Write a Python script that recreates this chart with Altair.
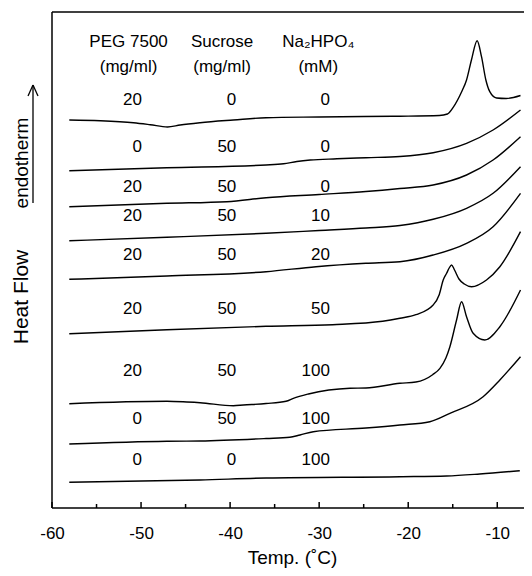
import altair as alt
import pandas as pd

FONT = "Liberation Sans"

# ---- DSC traces (temperature in degC, heat flow in arbitrary stacked units) ----
T1 = [-58.06, -54.58, -50.85, -48.97, -47.03, -45.61, -43.37, -39.63, -35.96, -30.0, -25.0, -20.9, -16.5, -15.6, -14.95, -14.0, -13.45, -12.9, -12.26, -11.77, -11.28, -10.84, -10.08, -9.0, -7.39]
H1 = [388.0, 387.3, 385.3, 383.3, 381.0, 383.0, 385.3, 388.0, 390.3, 391.0, 391.5, 391.8, 392.5, 394.0, 400.7, 416.3, 428.0, 448.0, 467.3, 451.3, 428.0, 416.3, 410.0, 409.5, 412.5]

T2 = [-58.06, -47.1, -35.96, -34.0, -32.5, -31.0, -28.0, -24.75, -20.93, -17.2, -13.45, -10.47, -7.39]
H2 = [337.3, 340.3, 343.0, 344.2, 346.5, 348.0, 349.2, 350.3, 351.5, 355.3, 364.7, 378.0, 398.0]

T3 = [-58.06, -47.1, -40.37, -35.96, -30.0, -24.75, -20.93, -17.2, -13.45, -10.47, -7.39]
H3 = [301.3, 304.7, 306.3, 310.2, 313.5, 316.5, 319.5, 323.0, 333.0, 348.0, 371.3]

T4 = [-58.06, -47.1, -35.96, -30.0, -24.75, -20.93, -17.2, -13.45, -10.47, -7.39]
H4 = [267.3, 270.7, 274.7, 277.5, 280.0, 282.5, 288.7, 299.7, 314.7, 341.3]

T5 = [-58.06, -47.1, -35.96, -30.35, -24.75, -20.93, -17.2, -13.45, -10.47, -7.39]
H5 = [228.7, 232.0, 236.3, 241.3, 244.7, 246.3, 253.0, 264.7, 281.3, 314.7]

T6 = [-58.06, -47.1, -35.96, -28.48, -22.87, -20.93, -19.14, -17.2, -16.52, -16.07, -15.69, -15.4, -15.13, -14.8, -14.3, -13.7, -12.89, -11.21, -9.71, -7.39]
H6 = [174.3, 178.3, 181.7, 183.3, 186.7, 189.7, 193.3, 203.0, 213.3, 228.0, 234.7, 240.0, 243.0, 238.0, 229.0, 224.0, 221.3, 228.0, 241.3, 276.3]

T7 = [-58.06, -47.1, -44.86, -43.37, -39.63, -38.51, -35.96, -33.72, -32.9, -31.2, -26.54, -24.75, -20.93, -19.14, -17.26, -16.44, -15.77, -15.32, -14.57, -14.01, -13.45, -12.71, -11.4, -9.71, -7.39]
H7 = [104.3, 106.7, 106.0, 105.3, 102.3, 103.0, 104.5, 106.7, 109.7, 114.0, 119.7, 120.0, 124.7, 126.0, 133.3, 139.7, 150.0, 161.3, 188.0, 206.3, 191.3, 174.7, 168.0, 181.3, 218.0]

T8 = [-58.06, -47.1, -43.37, -35.96, -33.3, -32.15, -30.66, -24.75, -20.93, -17.57, -15.32, -11.59, -9.71, -7.39]
H8 = [64.0, 66.7, 67.0, 69.5, 70.7, 73.0, 76.3, 80.0, 83.0, 86.3, 94.7, 111.3, 128.0, 151.3]

T9 = [-58.06, -43.37, -35.96, -20.93, -15.69, -11.96, -7.47]
H9 = [25.7, 28.0, 30.0, 31.3, 32.0, 34.0, 37.3]

traces = [(T1, H1), (T2, H2), (T3, H3), (T4, H4), (T5, H5), (T6, H6), (T7, H7), (T8, H8), (T9, H9)]

# ---- composition table ----
peg = ["20", "0", "20", "20", "20", "20", "20", "0", "0"]
sucrose = ["0", "50", "50", "50", "50", "50", "50", "50", "0"]
na2hpo4 = ["0", "0", "0", "10", "20", "50", "100", "100", "100"]
row_hf = [408.0, 361.3, 321.5, 292.5, 253.5, 199.0, 137.5, 89.0, 48.0]
col_T = [-49.9, -39.3, -28.8]          # right edges of number columns
head_T = [-51.4, -40.9, -30.1]         # header centres
head_line1 = ["PEG 7500", "Sucrose", "Na\u2082HPO\u2084"]
head_line2 = ["(mg/ml)", "(mg/ml)", "(mM)"]
head_hf = [466.0, 441.5]

major_ticks = [-60, -50, -40, -30, -20, -10]
minor_ticks = [-55, -45, -35, -25, -15]

rows = []
for i, (ts, hs) in enumerate(traces):
    for t, h in zip(ts, hs):
        rows.append({"trace": i, "T": t, "HF": h})
df = pd.DataFrame(rows)

num_rows = []
for j, col in enumerate([peg, sucrose, na2hpo4]):
    for txt, hf in zip(col, row_hf):
        num_rows.append({"T": col_T[j], "HF": hf, "label": txt})
df_num = pd.DataFrame(num_rows)

head_rows = []
for j in range(3):
    head_rows.append({"T": head_T[j], "HF": head_hf[0], "label": head_line1[j]})
    head_rows.append({"T": head_T[j], "HF": head_hf[1], "label": head_line2[j]})
df_head = pd.DataFrame(head_rows)

W_VIEW, W_SCALE, H = 472, 480, 496
xs = alt.Scale(domain=[-60, -6.1], range=[0, W_SCALE], nice=False, zero=False)
ys = alt.Scale(domain=[0, 496], nice=False, zero=False)

curves = alt.Chart(df).mark_line(color="black", strokeWidth=1.4, interpolate="monotone").encode(
    x=alt.X("T:Q", scale=xs,
            axis=alt.Axis(values=major_ticks, ticks=False, domain=False, grid=False, labelFlush=False,
                          labelExpr="toString(datum.value)",
                          labelFont=FONT, labelFontSize=17, labelColor="black", labelPadding=17,
                          title="Temp. (\u02daC)", titleFont=FONT, titleFontSize=19, titleX=240,
                          titleFontWeight="normal", titleColor="black", titlePadding=7)),
    y=alt.Y("HF:Q", scale=ys, axis=None),
    detail="trace:N",
)

nums = alt.Chart(df_num).mark_text(font=FONT, fontSize=17, align="right", baseline="middle", color="black").encode(
    x=alt.X("T:Q", scale=xs), y=alt.Y("HF:Q", scale=ys), text="label:N")

heads = alt.Chart(df_head).mark_text(font=FONT, fontSize=17, align="center", baseline="middle", color="black").encode(
    x=alt.X("T:Q", scale=xs), y=alt.Y("HF:Q", scale=ys), text="label:N")

df_major = pd.DataFrame({"T": major_ticks})
df_minor = pd.DataFrame({"T": minor_ticks})
ticks_major = alt.Chart(df_major).mark_rule(color="black", strokeWidth=1.5).encode(
    x=alt.X("T:Q", scale=xs), y=alt.value(H), y2=alt.value(H - 6))
ticks_minor = alt.Chart(df_minor).mark_rule(color="black", strokeWidth=1.5).encode(
    x=alt.X("T:Q", scale=xs), y=alt.value(H), y2=alt.value(H - 4))

one = pd.DataFrame({"a": [0]})
# frame (top, left, bottom); right edge lies outside the picture
frame_top = alt.Chart(one).mark_rule(color="black", strokeWidth=1.5).encode(
    x=alt.value(0), x2=alt.value(W_SCALE), y=alt.value(0))
frame_left = alt.Chart(one).mark_rule(color="black", strokeWidth=1.5).encode(
    x=alt.value(0), y=alt.value(0), y2=alt.value(H))
frame_bottom = alt.Chart(one).mark_rule(color="black", strokeWidth=1.5).encode(
    x=alt.value(0), x2=alt.value(W_SCALE), y=alt.value(H))

heat_flow = alt.Chart(one).mark_text(text="Heat Flow", font=FONT, fontSize=21, angle=270,
                                     align="center", baseline="middle", color="black").encode(
    x=alt.value(-30), y=alt.value(285))
endo = alt.Chart(one).mark_text(text="endotherm", font=FONT, fontSize=19, angle=270,
                                align="center", baseline="middle", color="black").encode(
    x=alt.value(-30), y=alt.value(151))
arrow_shaft = alt.Chart(one).mark_rule(color="black", strokeWidth=1.3).encode(
    x=alt.value(-19), y=alt.value(73), y2=alt.value(191))
arrow_l = alt.Chart(one).mark_rule(color="black", strokeWidth=1.3).encode(
    x=alt.value(-19), x2=alt.value(-24), y=alt.value(73), y2=alt.value(84))
arrow_r = alt.Chart(one).mark_rule(color="black", strokeWidth=1.3).encode(
    x=alt.value(-19), x2=alt.value(-14), y=alt.value(73), y2=alt.value(84))

chart = alt.layer(
    curves, nums, heads, ticks_major, ticks_minor, frame_top, frame_left, frame_bottom,
    heat_flow, endo, arrow_shaft, arrow_l, arrow_r
).properties(
    width=W_VIEW, height=H,
    background="white",
    autosize=alt.AutoSizeParams(type="none"),
    padding={"left": 44, "top": 4, "right": 0, "bottom": 60},
).configure_view(
    stroke=None
)

chart.save("out.html", embed_options={"renderer": "svg", "actions": False})
